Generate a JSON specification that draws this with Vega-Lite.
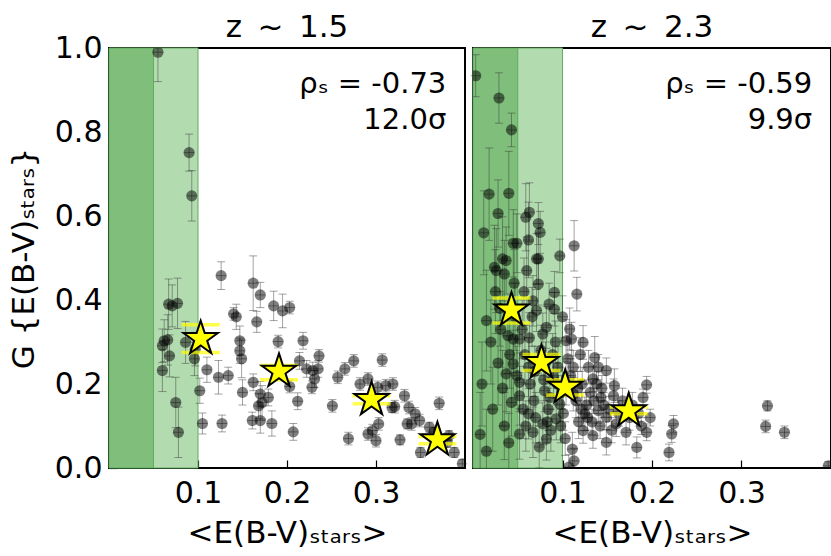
{
  "$schema": "https://vega.github.io/schema/vega-lite/v6.json",
  "padding": {"left": 7, "top": 10, "right": 4, "bottom": 4},
  "spacing": 0,
  "datasets": {
    "bands": [
      {"p": "a", "lo": 0, "hi": 0.05, "shade": "dark"},
      {"p": "a", "lo": 0.05, "hi": 0.1, "shade": "light"},
      {"p": "b", "lo": 0, "hi": 0.05, "shade": "dark"},
      {"p": "b", "lo": 0.05, "hi": 0.1, "shade": "light"}
    ],
    "notes": [
      {"p": "a", "rho": "ρₛ = -0.73", "sig": "12.0σ"},
      {"p": "b", "rho": "ρₛ = -0.59", "sig": "9.9σ"}
    ],
    "stars": [
      {"p": "a", "x": 0.103, "y": 0.308, "lo": 0.275, "hi": 0.341},
      {"p": "a", "x": 0.191, "y": 0.23, "lo": 0.21, "hi": 0.244},
      {"p": "a", "x": 0.295, "y": 0.163, "lo": 0.153, "hi": 0.172},
      {"p": "a", "x": 0.369, "y": 0.067, "lo": 0.058, "hi": 0.075},
      {"p": "b", "x": 0.043, "y": 0.376, "lo": 0.345, "hi": 0.405},
      {"p": "b", "x": 0.0765, "y": 0.251, "lo": 0.232, "hi": 0.27},
      {"p": "b", "x": 0.103, "y": 0.192, "lo": 0.174, "hi": 0.21},
      {"p": "b", "x": 0.174, "y": 0.136, "lo": 0.129, "hi": 0.145}
    ],
    "pts": [
      {"p": "a", "x": 0.055, "y": 0.99, "e": 0.07},
      {"p": "a", "x": 0.090, "y": 0.751, "e": 0.044},
      {"p": "a", "x": 0.093, "y": 0.648, "e": 0.06},
      {"p": "a", "x": 0.126, "y": 0.458, "e": 0.033},
      {"p": "a", "x": 0.162, "y": 0.44, "e": 0.065},
      {"p": "a", "x": 0.170, "y": 0.412, "e": 0.03},
      {"p": "a", "x": 0.185, "y": 0.386, "e": 0.035},
      {"p": "a", "x": 0.195, "y": 0.374, "e": 0.04},
      {"p": "a", "x": 0.203, "y": 0.382, "e": 0.015},
      {"p": "a", "x": 0.140, "y": 0.367, "e": 0.015},
      {"p": "a", "x": 0.143, "y": 0.36, "e": 0.03},
      {"p": "a", "x": 0.166, "y": 0.348, "e": 0.025},
      {"p": "a", "x": 0.067, "y": 0.39, "e": 0.06},
      {"p": "a", "x": 0.077, "y": 0.392, "e": 0.06},
      {"p": "a", "x": 0.071, "y": 0.386, "e": 0.05},
      {"p": "a", "x": 0.062, "y": 0.303, "e": 0.05},
      {"p": "a", "x": 0.066, "y": 0.305, "e": 0.06},
      {"p": "a", "x": 0.060, "y": 0.291, "e": 0.04},
      {"p": "a", "x": 0.068, "y": 0.267, "e": 0.05},
      {"p": "a", "x": 0.060, "y": 0.232, "e": 0.05},
      {"p": "a", "x": 0.086, "y": 0.299, "e": 0.05},
      {"p": "a", "x": 0.096, "y": 0.26, "e": 0.04},
      {"p": "a", "x": 0.097, "y": 0.283, "e": 0.04},
      {"p": "a", "x": 0.075, "y": 0.156, "e": 0.06},
      {"p": "a", "x": 0.078, "y": 0.085, "e": 0.06},
      {"p": "a", "x": 0.102, "y": 0.184, "e": 0.03},
      {"p": "a", "x": 0.105, "y": 0.106, "e": 0.025},
      {"p": "a", "x": 0.127, "y": 0.106, "e": 0.02},
      {"p": "a", "x": 0.110, "y": 0.234, "e": 0.03},
      {"p": "a", "x": 0.123, "y": 0.216, "e": 0.04},
      {"p": "a", "x": 0.134, "y": 0.22, "e": 0.02},
      {"p": "a", "x": 0.147, "y": 0.303, "e": 0.035},
      {"p": "a", "x": 0.147, "y": 0.279, "e": 0.03},
      {"p": "a", "x": 0.149, "y": 0.26, "e": 0.045},
      {"p": "a", "x": 0.150, "y": 0.18, "e": 0.03},
      {"p": "a", "x": 0.162, "y": 0.204, "e": 0.02},
      {"p": "a", "x": 0.170, "y": 0.176, "e": 0.03},
      {"p": "a", "x": 0.172, "y": 0.156, "e": 0.04},
      {"p": "a", "x": 0.168, "y": 0.148, "e": 0.03},
      {"p": "a", "x": 0.161, "y": 0.113, "e": 0.02},
      {"p": "a", "x": 0.170, "y": 0.113, "e": 0.03},
      {"p": "a", "x": 0.183, "y": 0.106, "e": 0.03},
      {"p": "a", "x": 0.179, "y": 0.168, "e": 0.02},
      {"p": "a", "x": 0.190, "y": 0.301, "e": 0.015},
      {"p": "a", "x": 0.218, "y": 0.303, "e": 0.02},
      {"p": "a", "x": 0.214, "y": 0.255, "e": 0.02},
      {"p": "a", "x": 0.222, "y": 0.236, "e": 0.02},
      {"p": "a", "x": 0.229, "y": 0.232, "e": 0.02},
      {"p": "a", "x": 0.235, "y": 0.236, "e": 0.02},
      {"p": "a", "x": 0.236, "y": 0.267, "e": 0.015},
      {"p": "a", "x": 0.231, "y": 0.212, "e": 0.02},
      {"p": "a", "x": 0.228, "y": 0.192, "e": 0.015},
      {"p": "a", "x": 0.212, "y": 0.159, "e": 0.02},
      {"p": "a", "x": 0.207, "y": 0.086, "e": 0.02},
      {"p": "a", "x": 0.203, "y": 0.194, "e": 0.015},
      {"p": "a", "x": 0.251, "y": 0.148, "e": 0.015},
      {"p": "a", "x": 0.257, "y": 0.216, "e": 0.015},
      {"p": "a", "x": 0.265, "y": 0.236, "e": 0.015},
      {"p": "a", "x": 0.275, "y": 0.255, "e": 0.015},
      {"p": "a", "x": 0.307, "y": 0.257, "e": 0.015},
      {"p": "a", "x": 0.282, "y": 0.2, "e": 0.015},
      {"p": "a", "x": 0.291, "y": 0.212, "e": 0.015},
      {"p": "a", "x": 0.302, "y": 0.192, "e": 0.015},
      {"p": "a", "x": 0.311, "y": 0.196, "e": 0.015},
      {"p": "a", "x": 0.319, "y": 0.2, "e": 0.015},
      {"p": "a", "x": 0.269, "y": 0.07, "e": 0.015},
      {"p": "a", "x": 0.291, "y": 0.081, "e": 0.015},
      {"p": "a", "x": 0.296, "y": 0.089, "e": 0.015},
      {"p": "a", "x": 0.303, "y": 0.105, "e": 0.015},
      {"p": "a", "x": 0.300, "y": 0.065, "e": 0.015},
      {"p": "a", "x": 0.321, "y": 0.146, "e": 0.015},
      {"p": "a", "x": 0.332, "y": 0.172, "e": 0.015},
      {"p": "a", "x": 0.337, "y": 0.144, "e": 0.015},
      {"p": "a", "x": 0.344, "y": 0.129, "e": 0.015},
      {"p": "a", "x": 0.349, "y": 0.113, "e": 0.015},
      {"p": "a", "x": 0.340, "y": 0.105, "e": 0.015},
      {"p": "a", "x": 0.327, "y": 0.067, "e": 0.012},
      {"p": "a", "x": 0.371, "y": 0.154, "e": 0.015},
      {"p": "a", "x": 0.350, "y": 0.037, "e": 0.012},
      {"p": "a", "x": 0.360, "y": 0.097, "e": 0.012},
      {"p": "a", "x": 0.365, "y": 0.085, "e": 0.012},
      {"p": "a", "x": 0.382, "y": 0.077, "e": 0.012},
      {"p": "a", "x": 0.388, "y": 0.037, "e": 0.012},
      {"p": "a", "x": 0.397, "y": 0.01, "e": 0.01},
      {"p": "a", "x": 0.318, "y": 0.144, "e": 0.012},
      {"p": "a", "x": 0.335, "y": 0.105, "e": 0.012},
      {"p": "a", "x": 0.380, "y": 0.061, "e": 0.012},
      {"p": "b", "x": 0.003, "y": 0.934, "e": 0.05},
      {"p": "b", "x": 0.029, "y": 0.881, "e": 0.06},
      {"p": "b", "x": 0.043, "y": 0.805, "e": 0.04},
      {"p": "b", "x": 0.018, "y": 0.652, "e": 0.11},
      {"p": "b", "x": 0.040, "y": 0.654, "e": 0.1},
      {"p": "b", "x": 0.028, "y": 0.606, "e": 0.08},
      {"p": "b", "x": 0.059, "y": 0.597, "e": 0.08},
      {"p": "b", "x": 0.063, "y": 0.609, "e": 0.07},
      {"p": "b", "x": 0.073, "y": 0.582, "e": 0.05},
      {"p": "b", "x": 0.075, "y": 0.561, "e": 0.05},
      {"p": "b", "x": 0.045, "y": 0.535, "e": 0.08},
      {"p": "b", "x": 0.049, "y": 0.535, "e": 0.07},
      {"p": "b", "x": 0.062, "y": 0.543, "e": 0.09},
      {"p": "b", "x": 0.073, "y": 0.498, "e": 0.06},
      {"p": "b", "x": 0.097, "y": 0.505, "e": 0.04},
      {"p": "b", "x": 0.113, "y": 0.529, "e": 0.06},
      {"p": "b", "x": 0.033, "y": 0.498, "e": 0.1},
      {"p": "b", "x": 0.037, "y": 0.494, "e": 0.08},
      {"p": "b", "x": 0.024, "y": 0.478, "e": 0.1},
      {"p": "b", "x": 0.035, "y": 0.462, "e": 0.08},
      {"p": "b", "x": 0.026, "y": 0.47, "e": 0.1},
      {"p": "b", "x": 0.071, "y": 0.498, "e": 0.06},
      {"p": "b", "x": 0.116, "y": 0.414, "e": 0.04},
      {"p": "b", "x": 0.091, "y": 0.418, "e": 0.05},
      {"p": "b", "x": 0.091, "y": 0.378, "e": 0.04},
      {"p": "b", "x": 0.071, "y": 0.375, "e": 0.05},
      {"p": "b", "x": 0.073, "y": 0.438, "e": 0.05},
      {"p": "b", "x": 0.067, "y": 0.398, "e": 0.06},
      {"p": "b", "x": 0.015, "y": 0.351, "e": 0.12},
      {"p": "b", "x": 0.039, "y": 0.315, "e": 0.09},
      {"p": "b", "x": 0.045, "y": 0.307, "e": 0.08},
      {"p": "b", "x": 0.052, "y": 0.307, "e": 0.08},
      {"p": "b", "x": 0.082, "y": 0.335, "e": 0.05},
      {"p": "b", "x": 0.078, "y": 0.319, "e": 0.05},
      {"p": "b", "x": 0.108, "y": 0.331, "e": 0.05},
      {"p": "b", "x": 0.110, "y": 0.307, "e": 0.04},
      {"p": "b", "x": 0.104, "y": 0.303, "e": 0.05},
      {"p": "b", "x": 0.123, "y": 0.299, "e": 0.04},
      {"p": "b", "x": 0.136, "y": 0.263, "e": 0.05},
      {"p": "b", "x": 0.129, "y": 0.24, "e": 0.04},
      {"p": "b", "x": 0.140, "y": 0.24, "e": 0.03},
      {"p": "b", "x": 0.149, "y": 0.232, "e": 0.03},
      {"p": "b", "x": 0.134, "y": 0.212, "e": 0.03},
      {"p": "b", "x": 0.037, "y": 0.224, "e": 0.09},
      {"p": "b", "x": 0.045, "y": 0.248, "e": 0.08},
      {"p": "b", "x": 0.062, "y": 0.24, "e": 0.07},
      {"p": "b", "x": 0.052, "y": 0.204, "e": 0.07},
      {"p": "b", "x": 0.052, "y": 0.172, "e": 0.07},
      {"p": "b", "x": 0.043, "y": 0.156, "e": 0.08},
      {"p": "b", "x": 0.062, "y": 0.129, "e": 0.06},
      {"p": "b", "x": 0.052, "y": 0.081, "e": 0.06},
      {"p": "b", "x": 0.067, "y": 0.085, "e": 0.06},
      {"p": "b", "x": 0.082, "y": 0.069, "e": 0.05},
      {"p": "b", "x": 0.078, "y": 0.105, "e": 0.05},
      {"p": "b", "x": 0.093, "y": 0.117, "e": 0.05},
      {"p": "b", "x": 0.086, "y": 0.168, "e": 0.04},
      {"p": "b", "x": 0.097, "y": 0.152, "e": 0.04},
      {"p": "b", "x": 0.112, "y": 0.176, "e": 0.04},
      {"p": "b", "x": 0.104, "y": 0.2, "e": 0.05},
      {"p": "b", "x": 0.090, "y": 0.216, "e": 0.05},
      {"p": "b", "x": 0.080, "y": 0.184, "e": 0.05},
      {"p": "b", "x": 0.158, "y": 0.196, "e": 0.04},
      {"p": "b", "x": 0.157, "y": 0.172, "e": 0.04},
      {"p": "b", "x": 0.143, "y": 0.168, "e": 0.03},
      {"p": "b", "x": 0.140, "y": 0.137, "e": 0.03},
      {"p": "b", "x": 0.125, "y": 0.129, "e": 0.04},
      {"p": "b", "x": 0.149, "y": 0.121, "e": 0.03},
      {"p": "b", "x": 0.160, "y": 0.105, "e": 0.03},
      {"p": "b", "x": 0.171, "y": 0.085, "e": 0.03},
      {"p": "b", "x": 0.183, "y": 0.049, "e": 0.025},
      {"p": "b", "x": 0.194, "y": 0.198, "e": 0.02},
      {"p": "b", "x": 0.190, "y": 0.168, "e": 0.02},
      {"p": "b", "x": 0.194, "y": 0.085, "e": 0.02},
      {"p": "b", "x": 0.123, "y": 0.089, "e": 0.03},
      {"p": "b", "x": 0.134, "y": 0.077, "e": 0.03},
      {"p": "b", "x": 0.149, "y": 0.061, "e": 0.03},
      {"p": "b", "x": 0.111, "y": 0.045, "e": 0.04},
      {"p": "b", "x": 0.113, "y": 0.017, "e": 0.03},
      {"p": "b", "x": 0.107, "y": 0.002, "e": 0.03},
      {"p": "b", "x": 0.224, "y": 0.105, "e": 0.02},
      {"p": "b", "x": 0.222, "y": 0.081, "e": 0.02},
      {"p": "b", "x": 0.219, "y": 0.037, "e": 0.02},
      {"p": "b", "x": 0.329, "y": 0.148, "e": 0.012},
      {"p": "b", "x": 0.327, "y": 0.099, "e": 0.015},
      {"p": "b", "x": 0.348, "y": 0.085, "e": 0.015},
      {"p": "b", "x": 0.397, "y": 0.005, "e": 0.01},
      {"p": "b", "x": 0.025, "y": 0.42, "e": 0.1},
      {"p": "b", "x": 0.030, "y": 0.38, "e": 0.09},
      {"p": "b", "x": 0.020, "y": 0.30, "e": 0.1},
      {"p": "b", "x": 0.028, "y": 0.25, "e": 0.1},
      {"p": "b", "x": 0.033, "y": 0.19, "e": 0.09},
      {"p": "b", "x": 0.022, "y": 0.14, "e": 0.1},
      {"p": "b", "x": 0.035, "y": 0.10, "e": 0.08},
      {"p": "b", "x": 0.040, "y": 0.06, "e": 0.07},
      {"p": "b", "x": 0.047, "y": 0.36, "e": 0.08},
      {"p": "b", "x": 0.055, "y": 0.33, "e": 0.07},
      {"p": "b", "x": 0.058, "y": 0.27, "e": 0.07},
      {"p": "b", "x": 0.064, "y": 0.20, "e": 0.06},
      {"p": "b", "x": 0.068, "y": 0.16, "e": 0.06},
      {"p": "b", "x": 0.070, "y": 0.12, "e": 0.06},
      {"p": "b", "x": 0.074, "y": 0.05, "e": 0.05},
      {"p": "b", "x": 0.076, "y": 0.28, "e": 0.06},
      {"p": "b", "x": 0.081, "y": 0.25, "e": 0.05},
      {"p": "b", "x": 0.084, "y": 0.14, "e": 0.05},
      {"p": "b", "x": 0.087, "y": 0.09, "e": 0.05},
      {"p": "b", "x": 0.092, "y": 0.30, "e": 0.05},
      {"p": "b", "x": 0.095, "y": 0.24, "e": 0.05},
      {"p": "b", "x": 0.099, "y": 0.18, "e": 0.04},
      {"p": "b", "x": 0.101, "y": 0.13, "e": 0.04},
      {"p": "b", "x": 0.103, "y": 0.07, "e": 0.04},
      {"p": "b", "x": 0.106, "y": 0.26, "e": 0.04},
      {"p": "b", "x": 0.109, "y": 0.22, "e": 0.04},
      {"p": "b", "x": 0.115, "y": 0.16, "e": 0.04},
      {"p": "b", "x": 0.118, "y": 0.11, "e": 0.04},
      {"p": "b", "x": 0.120, "y": 0.27, "e": 0.04},
      {"p": "b", "x": 0.122, "y": 0.20, "e": 0.04},
      {"p": "b", "x": 0.127, "y": 0.15, "e": 0.03},
      {"p": "b", "x": 0.131, "y": 0.18, "e": 0.03},
      {"p": "b", "x": 0.133, "y": 0.11, "e": 0.03},
      {"p": "b", "x": 0.138, "y": 0.20, "e": 0.03},
      {"p": "b", "x": 0.142, "y": 0.10, "e": 0.03},
      {"p": "b", "x": 0.146, "y": 0.15, "e": 0.03},
      {"p": "b", "x": 0.152, "y": 0.14, "e": 0.03},
      {"p": "b", "x": 0.155, "y": 0.09, "e": 0.03},
      {"p": "b", "x": 0.163, "y": 0.13, "e": 0.03},
      {"p": "b", "x": 0.167, "y": 0.16, "e": 0.03},
      {"p": "b", "x": 0.175, "y": 0.12, "e": 0.03},
      {"p": "b", "x": 0.178, "y": 0.15, "e": 0.03},
      {"p": "b", "x": 0.185, "y": 0.13, "e": 0.02},
      {"p": "b", "x": 0.188, "y": 0.10, "e": 0.02},
      {"p": "b", "x": 0.198, "y": 0.12, "e": 0.02},
      {"p": "b", "x": 0.046, "y": 0.44, "e": 0.08},
      {"p": "b", "x": 0.057, "y": 0.42, "e": 0.08},
      {"p": "b", "x": 0.066, "y": 0.36, "e": 0.07},
      {"p": "b", "x": 0.085, "y": 0.39, "e": 0.05},
      {"p": "b", "x": 0.100, "y": 0.36, "e": 0.05},
      {"p": "b", "x": 0.060, "y": 0.47, "e": 0.08},
      {"p": "b", "x": 0.012, "y": 0.56, "e": 0.1},
      {"p": "b", "x": 0.010, "y": 0.20, "e": 0.1},
      {"p": "b", "x": 0.008, "y": 0.08, "e": 0.1},
      {"p": "b", "x": 0.015, "y": 0.04, "e": 0.1},
      {"p": "b", "x": 0.031, "y": 0.33, "e": 0.09},
      {"p": "b", "x": 0.041, "y": 0.27, "e": 0.08},
      {"p": "b", "x": 0.049, "y": 0.22, "e": 0.07},
      {"p": "b", "x": 0.056, "y": 0.14, "e": 0.07},
      {"p": "b", "x": 0.059, "y": 0.10, "e": 0.06},
      {"p": "b", "x": 0.063, "y": 0.31, "e": 0.06},
      {"p": "b", "x": 0.069, "y": 0.23, "e": 0.06},
      {"p": "b", "x": 0.079, "y": 0.21, "e": 0.05},
      {"p": "b", "x": 0.083, "y": 0.11, "e": 0.05},
      {"p": "b", "x": 0.089, "y": 0.27, "e": 0.05},
      {"p": "b", "x": 0.094, "y": 0.20, "e": 0.05},
      {"p": "b", "x": 0.098, "y": 0.10, "e": 0.04},
      {"p": "b", "x": 0.112, "y": 0.24, "e": 0.04},
      {"p": "b", "x": 0.117, "y": 0.19, "e": 0.04},
      {"p": "b", "x": 0.121, "y": 0.14, "e": 0.04},
      {"p": "b", "x": 0.128, "y": 0.12, "e": 0.03},
      {"p": "b", "x": 0.135, "y": 0.16, "e": 0.03},
      {"p": "b", "x": 0.144, "y": 0.19, "e": 0.03}
    ]
  },
  "config": {
    "font": "DejaVu Sans",
    "view": {"stroke": "black", "strokeWidth": 2},
    "axis": {
      "grid": false,
      "domain": false,
      "tickColor": "black",
      "tickSize": -8,
      "tickWidth": 1.2,
      "labelFontSize": 30,
      "labelColor": "black",
      "labelPadding": 15,
      "labelFlush": false,
      "titleFontSize": 31,
      "titleFontWeight": "normal",
      "titleColor": "black"
    },
    "axisX": {"labelPadding": 18, "titlePadding": 10},
    "title": {"fontSize": 31, "fontWeight": "normal", "color": "black"}
  },
  "hconcat": [
    {
      "width": 356,
      "height": 420,
      "title": {"text": "z\u2002~\u20021.5", "offset": -11},
      "layer": [
        {
          "data": {"name": "bands"},
          "transform": [{"filter": "datum.p == 'a'"}],
          "mark": {"type": "rect", "stroke": "#5fae5c", "strokeWidth": 1},
          "encoding": {
            "x": {"field": "lo", "type": "quantitative", "scale": {"domain": [0, 0.4]},
                  "axis": {"values": [0.1, 0.2, 0.3], "format": ".1f", "title": "<E(B-V)ₛₜₐᵣₛ>"}},
            "x2": {"field": "hi"},
            "y": {"datum": 0, "type": "quantitative", "scale": {"domain": [0, 1]},
                  "axis": {"values": [0, 0.2, 0.4, 0.6, 0.8, 1.0], "format": ".1f", "title": "G {E(B-V)ₛₜₐᵣₛ}", "titlePadding": 14}},
            "y2": {"datum": 1},
            "color": {"field": "shade", "type": "nominal", "legend": null,
                      "scale": {"domain": ["dark", "light"], "range": ["#7fbf7b", "#b3dbb0"]}}
          }
        },
        {
          "data": {"name": "pts"},
          "transform": [{"filter": "datum.p == 'a'"}],
          "mark": {"type": "errorbar", "ticks": {"size": 8}, "color": "#333", "opacity": 0.45, "clip": true},
          "encoding": {
            "x": {"field": "x", "type": "quantitative"},
            "y": {"field": "y", "type": "quantitative", "title": "G {E(B-V)ₛₜₐᵣₛ}"},
            "yError": {"field": "e"}
          }
        },
        {
          "data": {"name": "pts"},
          "transform": [{"filter": "datum.p == 'a'"}],
          "mark": {"type": "tick", "orient": "horizontal", "color": "#333", "opacity": 0.45, "size": 10, "thickness": 1},
          "encoding": {
            "x": {"field": "x", "type": "quantitative"},
            "y": {"field": "y", "type": "quantitative"}
          }
        },
        {
          "data": {"name": "pts"},
          "transform": [{"filter": "datum.p == 'a'"}],
          "mark": {"type": "circle", "size": 125, "color": "black", "opacity": 0.5, "clip": true},
          "encoding": {
            "x": {"field": "x", "type": "quantitative"},
            "y": {"field": "y", "type": "quantitative"}
          }
        },
        {
          "data": {"name": "stars"},
          "transform": [{"filter": "datum.p == 'a'"}],
          "mark": {"type": "tick", "orient": "horizontal", "color": "#ffff00", "thickness": 3.5, "size": 38},
          "encoding": {"x": {"field": "x", "type": "quantitative"}, "y": {"field": "lo", "type": "quantitative"}}
        },
        {
          "data": {"name": "stars"},
          "transform": [{"filter": "datum.p == 'a'"}],
          "mark": {"type": "tick", "orient": "horizontal", "color": "#ffff00", "thickness": 3.5, "size": 38},
          "encoding": {"x": {"field": "x", "type": "quantitative"}, "y": {"field": "hi", "type": "quantitative"}}
        },
        {
          "data": {"name": "stars"},
          "transform": [{"filter": "datum.p == 'a'"}],
          "mark": {"type": "point", "shape": "M0,-1L0.2245,-0.309L0.951,-0.309L0.363,0.118L0.588,0.809L0,0.382L-0.588,0.809L-0.363,0.118L-0.951,-0.309L-0.2245,-0.309Z", "filled": true, "fill": "#ffff00", "stroke": "black", "strokeWidth": 2, "opacity": 1, "size": 1300},
          "encoding": {"x": {"field": "x", "type": "quantitative"}, "y": {"field": "y", "type": "quantitative"}}
        },
        {
          "data": {"name": "notes"},
          "transform": [{"filter": "datum.p == 'a'"}],
          "mark": {"type": "text", "align": "right", "baseline": "alphabetic", "fontSize": 29, "color": "black"},
          "encoding": {"x": {"datum": 0.379, "type": "quantitative"}, "y": {"datum": 0.894, "type": "quantitative"}, "text": {"field": "rho"}}
        },
        {
          "data": {"name": "notes"},
          "transform": [{"filter": "datum.p == 'a'"}],
          "mark": {"type": "text", "align": "right", "baseline": "alphabetic", "fontSize": 29, "color": "black"},
          "encoding": {"x": {"datum": 0.379, "type": "quantitative"}, "y": {"datum": 0.808, "type": "quantitative"}, "text": {"field": "sig"}}
        }
      ]
    },
    {
      "width": 358,
      "height": 420,
      "title": {"text": "z\u2002~\u20022.3", "offset": 4},
      "layer": [
        {
          "data": {"name": "bands"},
          "transform": [{"filter": "datum.p == 'b'"}],
          "mark": {"type": "rect", "stroke": "#5fae5c", "strokeWidth": 1},
          "encoding": {
            "x": {"field": "lo", "type": "quantitative", "scale": {"domain": [0, 0.4]},
                  "axis": {"values": [0.1, 0.2, 0.3], "format": ".1f", "title": "<E(B-V)ₛₜₐᵣₛ>"}},
            "x2": {"field": "hi"},
            "y": {"datum": 0, "type": "quantitative", "scale": {"domain": [0, 1]},
                  "axis": {"values": [0.2, 0.4, 0.6, 0.8], "labels": false, "title": null}},
            "y2": {"datum": 1},
            "color": {"field": "shade", "type": "nominal", "legend": null,
                      "scale": {"domain": ["dark", "light"], "range": ["#7fbf7b", "#b3dbb0"]}}
          }
        },
        {
          "data": {"name": "pts"},
          "transform": [{"filter": "datum.p == 'b'"}],
          "mark": {"type": "errorbar", "ticks": {"size": 8}, "color": "#333", "opacity": 0.45, "clip": true},
          "encoding": {
            "x": {"field": "x", "type": "quantitative"},
            "y": {"field": "y", "type": "quantitative"},
            "yError": {"field": "e"}
          }
        },
        {
          "data": {"name": "pts"},
          "transform": [{"filter": "datum.p == 'b'"}],
          "mark": {"type": "tick", "orient": "horizontal", "color": "#333", "opacity": 0.45, "size": 10, "thickness": 1},
          "encoding": {
            "x": {"field": "x", "type": "quantitative"},
            "y": {"field": "y", "type": "quantitative"}
          }
        },
        {
          "data": {"name": "pts"},
          "transform": [{"filter": "datum.p == 'b'"}],
          "mark": {"type": "circle", "size": 125, "color": "black", "opacity": 0.5, "clip": true},
          "encoding": {
            "x": {"field": "x", "type": "quantitative"},
            "y": {"field": "y", "type": "quantitative"}
          }
        },
        {
          "data": {"name": "stars"},
          "transform": [{"filter": "datum.p == 'b'"}],
          "mark": {"type": "tick", "orient": "horizontal", "color": "#ffff00", "thickness": 3.5, "size": 38},
          "encoding": {"x": {"field": "x", "type": "quantitative"}, "y": {"field": "lo", "type": "quantitative"}}
        },
        {
          "data": {"name": "stars"},
          "transform": [{"filter": "datum.p == 'b'"}],
          "mark": {"type": "tick", "orient": "horizontal", "color": "#ffff00", "thickness": 3.5, "size": 38},
          "encoding": {"x": {"field": "x", "type": "quantitative"}, "y": {"field": "hi", "type": "quantitative"}}
        },
        {
          "data": {"name": "stars"},
          "transform": [{"filter": "datum.p == 'b'"}],
          "mark": {"type": "point", "shape": "M0,-1L0.2245,-0.309L0.951,-0.309L0.363,0.118L0.588,0.809L0,0.382L-0.588,0.809L-0.363,0.118L-0.951,-0.309L-0.2245,-0.309Z", "filled": true, "fill": "#ffff00", "stroke": "black", "strokeWidth": 2, "opacity": 1, "size": 1300},
          "encoding": {"x": {"field": "x", "type": "quantitative"}, "y": {"field": "y", "type": "quantitative"}}
        },
        {
          "data": {"name": "notes"},
          "transform": [{"filter": "datum.p == 'b'"}],
          "mark": {"type": "text", "align": "right", "baseline": "alphabetic", "fontSize": 29, "color": "black"},
          "encoding": {"x": {"datum": 0.379, "type": "quantitative"}, "y": {"datum": 0.894, "type": "quantitative"}, "text": {"field": "rho"}}
        },
        {
          "data": {"name": "notes"},
          "transform": [{"filter": "datum.p == 'b'"}],
          "mark": {"type": "text", "align": "right", "baseline": "alphabetic", "fontSize": 29, "color": "black"},
          "encoding": {"x": {"datum": 0.379, "type": "quantitative"}, "y": {"datum": 0.808, "type": "quantitative"}, "text": {"field": "sig"}}
        }
      ]
    }
  ]
}
